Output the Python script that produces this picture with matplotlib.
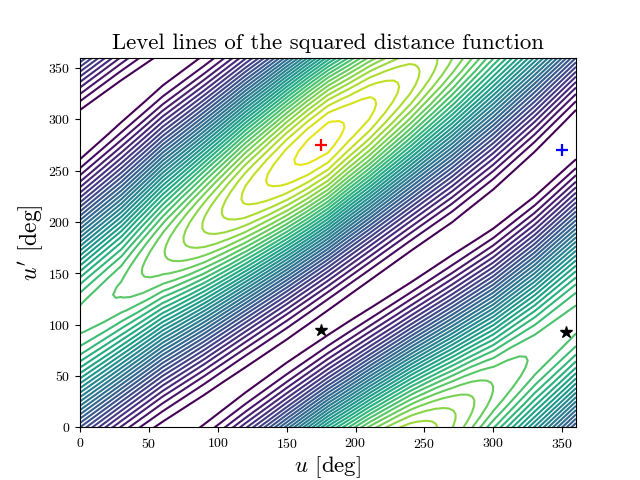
"""
plot.py
Level lines of the squared distance function, read off the picture.
The table holds level numbers, one list per u column, going along u' - u.
"""

import numpy as np
import matplotlib
matplotlib.use("Agg")
import matplotlib.pyplot as plt
from matplotlib.colors import Normalize

plt.rcParams["font.family"] = ["cmr10", "DejaVu Serif"]
plt.rcParams["mathtext.fontset"] = "cm"
plt.rcParams["axes.formatter.use_mathtext"] = True
plt.rcParams["axes.unicode_minus"] = False

u_columns = [0, 30, 60, 90, 120, 150, 165, 180, 195, 210, 240, 270, 300, 330]
offsets = [-80, -75, -70, -65, -60, -55, -50, -40, -30, -20, -10, 0, 10, 20, 30, 40, 50, 60, 70,
           75, 80, 85, 90, 95, 100, 105, 110, 115, 120, 125, 130, 135,
           140, 150, 160, 170, 180, 190, 200, 210, 220, 230, 240, 250, 255, 260, 265, 270, 275]

z_u000 = [-1.15, -1.20, -1.15, -0.99, -0.73, -0.37, 0.09, 1.30, 2.84, 4.68, 6.77, 9.03, 11.40, 13.80, 16.17, 18.43, 20.52, 22.36, 23.90,
          24.55, 25.11, 25.57, 25.93, 26.19, 26.35, 26.40, 26.35, 26.19, 25.93, 25.57, 25.11, 24.55,
          23.90, 22.36, 20.52, 18.43, 16.17, 13.80, 11.40, 9.03, 6.77, 4.68, 2.84, 1.30, 0.65, 0.09, -0.37, -0.73, -0.99]
z_u030 = [-0.77, -0.88, -0.89, -0.79, -0.58, -0.26, 0.17, 1.32, 2.86, 4.71, 6.83, 9.15, 11.61, 14.10, 16.56, 18.90, 21.10, 23.00, 24.60,
          25.26, 25.84, 26.30, 26.67, 26.94, 27.10, 27.15, 27.08, 26.87, 26.58, 26.20, 25.74, 25.18,
          24.49, 23.00, 21.21, 19.10, 16.87, 14.51, 12.12, 9.78, 7.52, 5.41, 3.53, 1.95, 1.27, 0.67, 0.17, -0.24, -0.56]
z_u060 = [-0.42, -0.56, -0.60, -0.52, -0.33, -0.03, 0.38, 1.50, 3.02, 4.87, 7.00, 9.35, 11.84, 14.40, 16.96, 19.44, 21.75, 23.83, 25.61,
          26.38, 27.05, 27.63, 28.10, 28.46, 28.72, 28.86, 28.90, 28.82, 28.63, 28.33, 27.93, 27.40,
          26.78, 25.28, 23.43, 21.30, 18.95, 16.46, 13.89, 11.34, 8.86, 6.55, 4.49, 2.69, 1.92, 1.25, 0.67, 0.20, -0.16]
z_u090 = [-0.38, -0.49, -0.48, -0.35, -0.10, 0.27, 0.75, 2.05, 3.74, 5.80, 8.13, 10.68, 13.38, 16.13, 18.86, 21.45, 23.90, 26.08, 27.92,
          28.70, 29.38, 29.95, 30.41, 30.75, 30.98, 31.09, 31.08, 30.95, 30.70, 30.33, 29.85, 29.25,
          28.55, 26.85, 24.84, 22.47, 19.92, 17.22, 14.47, 11.75, 9.13, 6.69, 4.52, 2.68, 1.90, 1.22, 0.65, 0.19, -0.16]
z_u120 = [-0.31, -0.40, -0.36, -0.19, 0.10, 0.51, 1.05, 2.47, 4.31, 6.53, 9.04, 11.77, 14.64, 17.57, 20.47, 23.23, 25.80, 28.07, 29.99,
          30.78, 31.50, 32.10, 32.55, 32.89, 33.11, 33.20, 33.16, 32.99, 32.70, 32.29, 31.75, 31.09,
          30.33, 28.49, 26.28, 23.77, 21.03, 18.16, 15.23, 12.33, 9.57, 7.01, 4.73, 2.81, 2.00, 1.30, 0.72, 0.25, -0.09]
z_u150 = [-0.31, -0.35, -0.26, -0.03, 0.33, 0.82, 1.43, 3.01, 5.02, 7.40, 10.08, 12.97, 16.00, 19.06, 22.07, 24.93, 27.56, 29.87, 31.80,
          32.60, 33.28, 33.84, 34.28, 34.58, 34.76, 34.80, 34.71, 34.48, 34.12, 33.65, 33.02, 32.27,
          31.44, 29.43, 27.05, 24.37, 21.48, 18.45, 15.39, 12.38, 9.52, 6.89, 4.58, 2.66, 1.85, 1.17, 0.61, 0.17, -0.13]
z_u165 = [-0.35, -0.36, -0.24, 0.02, 0.41, 0.93, 1.57, 3.22, 5.29, 7.73, 10.47, 13.42, 16.49, 19.67, 22.71, 25.59, 28.24, 30.56, 32.47,
          33.26, 33.94, 34.48, 34.90, 35.18, 35.33, 35.34, 35.22, 34.96, 34.57, 34.06, 33.41, 32.62,
          31.75, 29.67, 27.22, 24.46, 21.50, 18.42, 15.30, 12.26, 9.38, 6.73, 4.42, 2.50, 1.71, 1.04, 0.50, 0.08, -0.20]
z_u180 = [-0.39, -0.37, -0.22, 0.06, 0.48, 1.03, 1.71, 3.42, 5.55, 8.06, 10.86, 13.86, 16.97, 20.11, 23.16, 26.05, 28.68, 30.98, 32.86,
          33.64, 34.29, 34.82, 35.21, 35.47, 35.59, 35.57, 35.42, 35.14, 34.72, 34.17, 33.49, 32.69,
          31.78, 29.65, 27.14, 24.34, 21.34, 18.23, 15.09, 12.04, 9.15, 6.52, 4.22, 2.34, 1.56, 0.91, 0.38, -0.01, -0.27]
z_u195 = [-0.45, -0.39, -0.21, 0.10, 0.55, 1.12, 1.82, 3.55, 5.68, 8.15, 10.91, 13.84, 16.89, 19.94, 22.92, 25.72, 28.26, 30.47, 32.28,
          33.02, 33.63, 34.13, 34.50, 34.74, 34.85, 34.81, 34.65, 34.36, 33.93, 33.36, 32.69, 31.89,
          30.96, 28.84, 26.35, 23.57, 20.59, 17.52, 14.43, 11.44, 8.62, 6.04, 3.84, 2.04, 1.30, 0.69, 0.21, -0.15, -0.37]
z_u210 = [-0.50, -0.41, -0.19, 0.15, 0.63, 1.22, 1.94, 3.68, 5.81, 8.28, 11.01, 13.91, 16.90, 19.89, 22.79, 25.52, 27.99, 30.13, 31.87,
          32.58, 33.17, 33.64, 33.99, 34.21, 34.30, 34.25, 34.08, 33.77, 33.33, 32.74, 32.06, 31.26,
          30.32, 28.18, 25.69, 22.91, 19.95, 16.90, 13.85, 10.89, 8.12, 5.59, 3.46, 1.73, 1.04, 0.47, 0.03, -0.28, -0.46]
z_u240 = [-0.56, -0.40, -0.13, 0.26, 0.77, 1.39, 2.12, 3.85, 5.94, 8.34, 10.95, 13.67, 16.50, 19.31, 22.03, 24.56, 26.81, 28.80, 30.38,
          31.01, 31.54, 31.96, 32.26, 32.44, 32.50, 32.43, 32.24, 31.91, 31.45, 30.88, 30.18, 29.37,
          28.46, 26.35, 23.87, 21.18, 18.31, 15.37, 12.45, 9.62, 7.01, 4.66, 2.70, 1.15, 0.55, 0.07, -0.29, -0.51, -0.60]
z_u270 = [-0.49, -0.28, 0.03, 0.46, 1.00, 1.61, 2.34, 4.05, 6.07, 8.34, 10.78, 13.38, 15.98, 18.57, 21.01, 23.32, 25.36, 27.10, 28.50,
          29.04, 29.49, 29.83, 30.06, 30.18, 30.19, 30.08, 29.85, 29.49, 29.02, 28.43, 27.73, 26.92,
          26.02, 23.96, 21.59, 19.04, 16.32, 13.56, 10.85, 8.24, 5.85, 3.76, 2.02, 0.70, 0.20, -0.18, -0.44, -0.58, -0.59]
z_u300 = [-0.67, -0.45, -0.14, 0.28, 0.78, 1.37, 2.07, 3.69, 5.56, 7.70, 9.99, 12.40, 14.80, 17.20, 19.50, 21.64, 23.53, 25.15, 26.42,
          26.93, 27.34, 27.66, 27.87, 27.98, 27.99, 27.88, 27.66, 27.32, 26.88, 26.32, 25.63, 24.90,
          24.01, 22.08, 19.87, 17.46, 14.88, 12.30, 9.73, 7.31, 5.09, 3.15, 1.54, 0.31, -0.13, -0.46, -0.69, -0.79, -0.79]
z_u330 = [-0.97, -0.84, -0.61, -0.28, 0.14, 0.65, 1.25, 2.70, 4.44, 6.44, 8.60, 10.84, 13.26, 15.60, 17.87, 20.00, 21.90, 23.56, 24.90,
          25.45, 25.93, 26.29, 26.56, 26.73, 26.80, 26.76, 26.62, 26.36, 26.00, 25.53, 24.94, 24.29,
          23.55, 21.76, 19.71, 17.43, 15.00, 12.54, 10.05, 7.68, 5.44, 3.47, 1.80, 0.48, -0.02, -0.43, -0.73, -0.92, -1.00]

red_plus_u, red_plus_v = [175], [275]
blue_plus_u, blue_plus_v = [350], [270]
star_u, star_v = [175, 353], [95, 93]

level_numbers = np.arange(0, 36)
ticks = [0, 50, 100, 150, 200, 250, 300, 350]


def draw_levels(ax):
    table = np.column_stack([z_u000, z_u030, z_u060, z_u090, z_u120, z_u150, z_u165,
                             z_u180, z_u195, z_u210, z_u240, z_u270, z_u300, z_u330])
    # same value one full turn further on, in both angles
    table = np.column_stack([table, table[:, 0]])
    table = np.vstack([table, table, table, table[0]])
    us = np.array(u_columns + [360])
    ds = np.concatenate([np.array(offsets) - 360, offsets, np.array(offsets) + 360, [640]])
    X, D = np.meshgrid(us, ds)
    ax.contour(X, X + D, table, levels=level_numbers, cmap="viridis",
               norm=Normalize(0, 36.5), linewidths=1.5)


fig, ax = plt.subplots(figsize=(6.4, 4.8), dpi=100)
draw_levels(ax)

ax.plot(red_plus_u, red_plus_v, "+", color="red", ms=9, mew=1.6)
ax.plot(blue_plus_u, blue_plus_v, "+", color="blue", ms=9, mew=1.6)
ax.plot(star_u, star_v, "*", color="black", ms=9)

ax.set_xlim(0, 360)
ax.set_ylim(0, 360)
ax.set_xticks(ticks)
ax.set_yticks(ticks)
ax.tick_params(labelsize=10)

ax.set_title("Level lines of the squared distance function", fontsize=16.4)
ax.set_xlabel("$u$ [deg]", fontsize=16.5, labelpad=2.5)
ax.set_ylabel("$u'$ [deg]", fontsize=17, labelpad=2)

plt.savefig("out.png", dpi=100)
plt.close()
